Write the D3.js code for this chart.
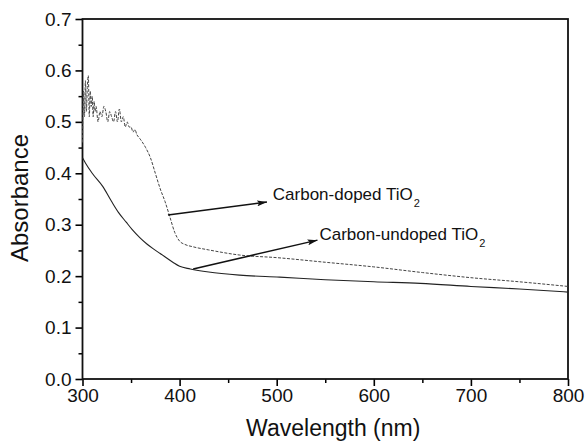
<!DOCTYPE html>
<html>
<head>
    <title>Absorbance spectra</title>
    <meta charset="utf-8">
    <script src="https://cdn.jsdelivr.net/npm/d3@7"></script>
    <style>
        body { margin: 0; background: #fff; }
        text { font-family: Arial, "Liberation Sans", sans-serif; fill: #111; }
    </style>
</head>
<body>
    <div id="chart"></div>
    <script>
        // wavelength (nm) / absorbance
        var dopedWave = [300, 301, 302, 303, 304, 305, 306, 307, 308, 309, 310, 311, 312, 313, 314,
            316, 318, 320, 322, 324, 326, 328, 330, 332, 334, 336, 338, 340, 342, 344, 346, 348,
            350, 352, 354, 356, 358, 360, 365, 370, 375, 380, 385, 390, 395, 400, 405, 414, 430,
            462, 500, 550, 600, 650, 700, 750, 800];
        var dopedAbs = [0.46, 0.56, 0.51, 0.58, 0.52, 0.57, 0.59, 0.51, 0.56, 0.53, 0.55, 0.51, 0.54, 0.52, 0.53,
            0.50, 0.52, 0.51, 0.53, 0.52, 0.50, 0.52, 0.51, 0.50, 0.52, 0.50, 0.525, 0.50, 0.51, 0.49, 0.50, 0.49,
            0.49, 0.48, 0.485, 0.475, 0.47, 0.465, 0.45, 0.43, 0.40, 0.37, 0.345, 0.315, 0.285, 0.268, 0.262, 0.257, 0.251,
            0.241, 0.236, 0.227, 0.218, 0.207, 0.197, 0.189, 0.180];

        var undopedWave = [300, 303, 310, 321, 330, 337, 345, 351, 359, 366, 373, 380, 393, 400, 411,
            430, 462, 503, 550, 600, 648, 700, 750, 800];
        var undopedAbs = [0.43, 0.42, 0.40, 0.374, 0.345, 0.324, 0.305, 0.291, 0.275, 0.263, 0.253, 0.244, 0.227, 0.219, 0.214,
            0.208, 0.202, 0.198, 0.193, 0.189, 0.186, 0.180, 0.175, 0.169];

        var xTicks = [300, 400, 500, 600, 700, 800];
        var yTicks = [0.0, 0.1, 0.2, 0.3, 0.4, 0.5, 0.6, 0.7];

        // annotations: label text, arrow from curve to label (data units)
        var labels = ["Carbon-doped TiO", "Carbon-undoped TiO"];
        var arrowFrom = [[388, 0.319], [414, 0.214]];
        var arrowTo = [[490, 0.344], [542, 0.270]];
        var labelAt = [[496, 0.349], [544, 0.271]];

        var W = 587, H = 443;
        var margin = {top: 19, right: 19, bottom: 64, left: 82.5};
        var width = W - margin.left - margin.right,
            height = H - margin.top - margin.bottom;

        var svg = d3.select("#chart").append("svg")
            .attr("width", W).attr("height", H);

        var g = svg.append("g")
            .attr("transform", "translate(" + margin.left + "," + margin.top + ")");

        var x = d3.scaleLinear().domain([300, 800]).range([0, width]);
        var y = d3.scaleLinear().domain([0, 0.7]).range([height, 0]);

        // minor ticks
        g.append("g")
            .attr("transform", "translate(0," + height + ")")
            .call(d3.axisBottom(x).tickValues(d3.range(350, 800, 100)).tickSize(4).tickFormat(""))
            .call(function(a) { a.select(".domain").remove(); a.selectAll("line").attr("stroke-width", 1.5); });
        g.append("g")
            .call(d3.axisLeft(y).tickValues(d3.range(0.05, 0.7, 0.1)).tickSize(4).tickFormat(""))
            .call(function(a) { a.select(".domain").remove(); a.selectAll("line").attr("stroke-width", 1.5); });

        // major ticks + labels
        var xAxis = g.append("g")
            .attr("transform", "translate(0," + height + ")")
            .call(d3.axisBottom(x).tickValues(xTicks).tickSize(7).tickPadding(3).tickFormat(d3.format("d")));
        xAxis.select(".domain").remove();
        xAxis.selectAll("line").attr("stroke-width", 1.6);
        xAxis.selectAll("text").style("font-size", "19px").attr("fill", "#111");

        var yAxis = g.append("g")
            .call(d3.axisLeft(y).tickValues(yTicks).tickSize(7).tickPadding(4).tickFormat(d3.format(".1f")));
        yAxis.select(".domain").remove();
        yAxis.selectAll("line").attr("stroke-width", 1.6);
        yAxis.selectAll("text").style("font-size", "19px").attr("fill", "#111");

        // frame
        g.append("rect")
            .attr("width", width).attr("height", height)
            .attr("fill", "none").attr("stroke", "#111").attr("stroke-width", 1.8);

        var line = d3.line()
            .curve(d3.curveMonotoneX)
            .x(function(d) { return x(d[0]); })
            .y(function(d) { return y(d[1]); });

        g.append("path")
            .datum(d3.zip(undopedWave, undopedAbs))
            .attr("fill", "none")
            .attr("stroke", "#222")
            .attr("stroke-width", 1.1)
            .attr("d", line);

        g.append("path")
            .datum(d3.zip(dopedWave, dopedAbs))
            .attr("fill", "none")
            .attr("stroke", "#444")
            .attr("stroke-width", 1)
            .attr("stroke-dasharray", "3,1.5")
            .attr("d", line);

        // arrows
        svg.append("defs").append("marker")
            .attr("id", "head")
            .attr("viewBox", "0 0 10 6")
            .attr("refX", 10).attr("refY", 3)
            .attr("markerWidth", 10).attr("markerHeight", 6)
            .attr("markerUnits", "userSpaceOnUse")
            .attr("orient", "auto")
            .append("path")
            .attr("d", "M0,0 L10,3 L0,6 L2,3 Z")
            .attr("fill", "#111");

        for (var i = 0; i < labels.length; i++) {
            g.append("line")
                .attr("x1", x(arrowFrom[i][0])).attr("y1", y(arrowFrom[i][1]))
                .attr("x2", x(arrowTo[i][0])).attr("y2", y(arrowTo[i][1]))
                .attr("stroke", "#111").attr("stroke-width", 1.5)
                .attr("marker-end", "url(#head)");

            var t = g.append("text")
                .attr("x", x(labelAt[i][0])).attr("y", y(labelAt[i][1]))
                .style("font-size", "17px");
            t.append("tspan").text(labels[i]);
            t.append("tspan").attr("dy", 7).attr("dx", 1).style("font-size", "11px").text("2");
        }

        // axis titles
        svg.append("text")
            .attr("x", margin.left + width / 2 + 8)
            .attr("y", 436)
            .attr("text-anchor", "middle")
            .style("font-size", "23px")
            .text("Wavelength (nm)");

        svg.append("text")
            .attr("transform", "translate(28," + 198 + ") rotate(-90)")
            .attr("text-anchor", "middle")
            .style("font-size", "24px")
            .text("Absorbance");
    </script>
</body>
</html>
